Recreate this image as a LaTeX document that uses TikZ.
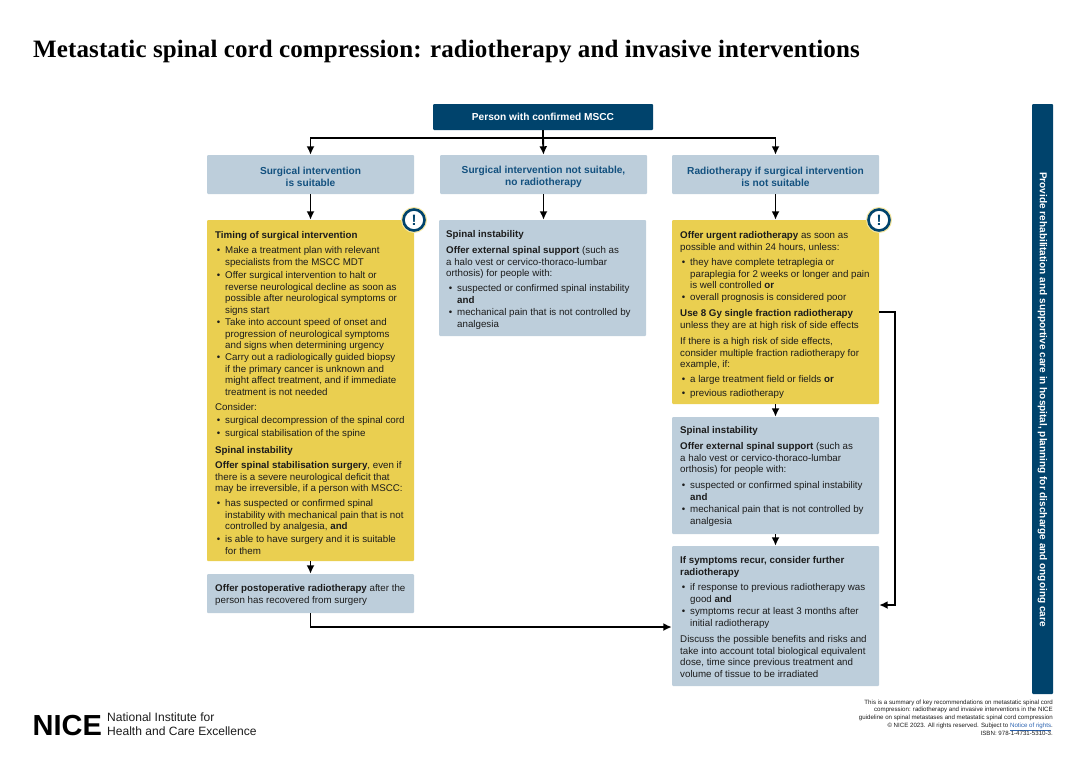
\documentclass[tikz,border=0pt]{standalone}
\usepackage{fontspec}
\usetikzlibrary{arrows.meta}
\setmainfont{Liberation Sans}
\newfontfamily\titlefont[LetterSpace=0.45]{Liberation Serif}
\definecolor{nicedark}{HTML}{00436C}
\definecolor{nicelight}{HTML}{BDCEDB}
\definecolor{niceyellow}{HTML}{EACF50}
\definecolor{niceink}{HTML}{1C1C1C}
\definecolor{nicehead}{HTML}{13517F}
\definecolor{nicelink}{HTML}{2A62B0}
\newcommand{\bu}{\llap{\textbullet\hspace{5pt}}}
\tikzset{
  box/.style={rectangle,inner sep=0pt,rounded corners=1pt,minimum width=207pt},
  lightbox/.style={box,fill=nicelight},
  yellowbox/.style={box,fill=niceyellow},
  headbox/.style={lightbox,minimum height=39pt,text=nicehead,align=center,font=\fontsize{10.15}{11.5}\selectfont\bfseries},
  para/.style={anchor=north west,inner sep=0pt,yshift=-2pt,align=left,text=niceink,font=\fontsize{9.75}{11.5}\selectfont},
  conn/.style={draw=black,line width=1.9pt,-{Latex[length=8.5pt,width=8pt]}},
  alert/.style={circle,fill=white,draw=nicedark,line width=2.6pt,minimum size=21pt,inner sep=0pt,text=nicedark,font=\fontsize{15}{15}\selectfont\bfseries},
  halo/.style={circle,fill=niceyellow!55!white,minimum size=26pt,inner sep=0pt},
  foot/.style={anchor=north east,inner sep=0pt,align=right,text=niceink,font=\fontsize{6.15}{7.8}\selectfont},
}
\begin{document}
\begin{tikzpicture}[x=1pt,y=-1pt]
\useasboundingbox (0,0) rectangle (1086,768);
% title
\node[anchor=base west,inner sep=0pt,text=black,font=\fontsize{25}{28}\selectfont\titlefont\bfseries] (title) at (33,57) {Metastatic spinal cord compression: radiotherapy and invasive interventions};
% boxes
\node[box,minimum width=220pt,minimum height=26pt,fill=nicedark,text=white,font=\fontsize{10.15}{12}\selectfont\bfseries] (top) at (543,117) {\raisebox{-1pt}{Person with confirmed MSCC}};
\node[headbox] (h1) at (310.5,174.5) {\rule{0pt}{11pt}\raisebox{-1.5pt}{Surgical intervention}\\\raisebox{-1.5pt}{is suitable}};
\node[headbox] (h2) at (543.5,174.5) {\rule{0pt}{11pt}\raisebox{-1.5pt}{Surgical intervention not suitable,}\\\raisebox{-1.5pt}{no radiotherapy}};
\node[headbox] (h3) at (775.5,174.5) {\rule{0pt}{11pt}\raisebox{-1.5pt}{Radiotherapy if surgical intervention}\\\raisebox{-1.5pt}{is not suitable}};
\node[yellowbox,minimum height=341pt] (y1) at (310.5,390.5) {};
\node[lightbox,minimum height=116pt] (c1) at (542.5,278) {};
\node[yellowbox,minimum height=184pt] (y3) at (775.5,312) {};
\node[lightbox,minimum height=117pt] (sp) at (775.5,475.5) {};
\node[lightbox,minimum height=140pt] (sy) at (775.5,616) {};
\node[lightbox,minimum height=39pt] (po) at (310.5,593.5) {};
\node[box,minimum width=21pt,minimum height=590pt,fill=nicedark] (bar) at (1042.5,399) {};
\node[rotate=-90,inner sep=0pt,text=white,font=\fontsize{10.05}{12}\selectfont\bfseries] (bartext) at (1042.5,399.5) {Provide rehabilitation and supportive care in hospital, planning for discharge and ongoing care};
% alerts
\node[halo] (ha) at (414,220) {};
\node[alert] (a1) at (414,220) {!};
\node[halo] (hb) at (879,220) {};
\node[alert] (a3) at (879,220) {!};
% left column text
\node[para] (t1) at (215,229.5) {\textbf{Timing of surgical intervention}};
\node[para] (t2) at (225,244.5) {\bu Make a treatment plan with relevant\\specialists from the MSCC MDT};
\node[para] (t3) at (225,269.5) {\bu Offer surgical intervention to halt or\\reverse neurological decline as soon as\\possible after neurological symptoms or\\signs start};
\node[para] (t4) at (225,316.5) {\bu Take into account speed of onset and\\progression of neurological symptoms\\and signs when determining urgency};
\node[para] (t5) at (225,351.5) {\bu Carry out a radiologically guided biopsy\\if the primary cancer is unknown and\\might affect treatment, and if immediate\\treatment is not needed};
\node[para] (t6) at (215,401.5) {Consider:};
\node[para] (t7) at (225,414.5) {\bu surgical decompression of the spinal cord};
\node[para] (t8) at (225,427.5) {\bu surgical stabilisation of the spine};
\node[para] (t9) at (215,444.5) {\textbf{Spinal instability}};
\node[para] (t10) at (215,459.5) {\textbf{Offer spinal stabilisation surgery}, even if\\there is a severe neurological deficit that\\may be irreversible, if a person with MSCC:};
\node[para] (t11) at (225,497.5) {\bu has suspected or confirmed spinal\\instability with mechanical pain that is not\\controlled by analgesia, \textbf{and}};
\node[para] (t12) at (225,533.5) {\bu is able to have surgery and it is suitable\\for them};
\node[para] (t13) at (215,582.5) {\textbf{Offer postoperative radiotherapy} after the\\person has recovered from surgery};
% centre column text
\node[para] (m1) at (446,228.5) {\textbf{Spinal instability}};
\node[para] (m2) at (446,244.5) {\textbf{Offer external spinal support} (such as\\a halo vest or cervico-thoraco-lumbar\\orthosis) for people with:};
\node[para] (m3) at (457,282.5) {\bu suspected or confirmed spinal instability\\\textbf{and}};
\node[para] (m4) at (457,306.5) {\bu mechanical pain that is not controlled by\\analgesia};
% right column text
\node[para] (r1) at (680,229.5) {\textbf{Offer urgent radiotherapy} as soon as\\possible and within 24 hours, unless:};
\node[para] (r2) at (690,256.5) {\bu they have complete tetraplegia or\\paraplegia for 2 weeks or longer and pain\\is well controlled \textbf{or}};
\node[para] (r3) at (690,291.5) {\bu overall prognosis is considered poor};
\node[para] (r4) at (680,307.5) {\textbf{Use 8 Gy single fraction radiotherapy}\\unless they are at high risk of side effects};
\node[para] (r5) at (680,335.5) {If there is a high risk of side effects,\\consider multiple fraction radiotherapy for\\example, if:};
\node[para] (r6) at (690,373.5) {\bu a large treatment field or fields \textbf{or}};
\node[para] (r7) at (690,387.5) {\bu previous radiotherapy};
\node[para] (s1) at (680,424.5) {\textbf{Spinal instability}};
\node[para] (s2) at (680,440.5) {\textbf{Offer external spinal support} (such as\\a halo vest or cervico-thoraco-lumbar\\orthosis) for people with:};
\node[para] (s3) at (690,479.5) {\bu suspected or confirmed spinal instability\\\textbf{and}};
\node[para] (s4) at (690,503.5) {\bu mechanical pain that is not controlled by\\analgesia};
\node[para] (u1) at (680,554.5) {\textbf{If symptoms recur, consider further}\\\textbf{radiotherapy}};
\node[para] (u2) at (690,581.5) {\bu if response to previous radiotherapy was\\good \textbf{and}};
\node[para] (u3) at (690,605.5) {\bu symptoms recur at least 3 months after\\initial radiotherapy};
\node[para] (u4) at (680,633.5) {Discuss the possible benefits and risks and\\take into account total biological equivalent\\dose, time since previous treatment and\\volume of tissue to be irradiated};
% connectors
\coordinate (branch) at (543,138);
\draw[line width=1.9pt] (top.south) -- (branch);
\draw[conn] (branch) -| (h1.north);
\draw[conn] (branch) -- (h2.north);
\draw[conn] (branch) -| (h3.north);
\draw[conn] (h1.south) -- (y1.north);
\draw[conn] (h2.south) -- (h2.south |- c1.north);
\draw[conn] (h3.south) -- (y3.north);
\draw[conn] (y3.south) -- (sp.north);
\draw[conn] (sp.south) -- (sy.north);
\draw[conn] (y1.south) -- (po.north);
\coordinate (sydown) at ([yshift=-11pt]sy.west);
\draw[conn] (po.south) |- (sydown);
\coordinate (syright) at ([yshift=11pt]sy.east);
\coordinate (elbow) at (895,312);
\draw[conn] (y3.east) -- (elbow) |- (syright);
% logo
\node[anchor=base west,inner sep=0pt,text=black,font=\fontsize{29}{29}\selectfont\bfseries] (nice) at (32.5,735.5) {NICE};
\node[anchor=north west,inner sep=0pt,align=left,text=niceink,font=\fontsize{12.05}{14}\selectfont] (org) at (107,712.5) {National Institute for\\Health and Care Excellence};
% footer
\node[foot] (fn) at (1053,699.5) {This is a summary of key recommendations on metastatic spinal cord\\compression: radiotherapy and invasive interventions in the NICE\\guideline on spinal metastases and metastatic spinal cord compression\\\copyright{} NICE 2023. All rights reserved. Subject to \textcolor{nicelink}{\underline{Notice of rights}}.\\ISBN: 978-1-4731-5310-3.};
\end{tikzpicture}
\end{document}
